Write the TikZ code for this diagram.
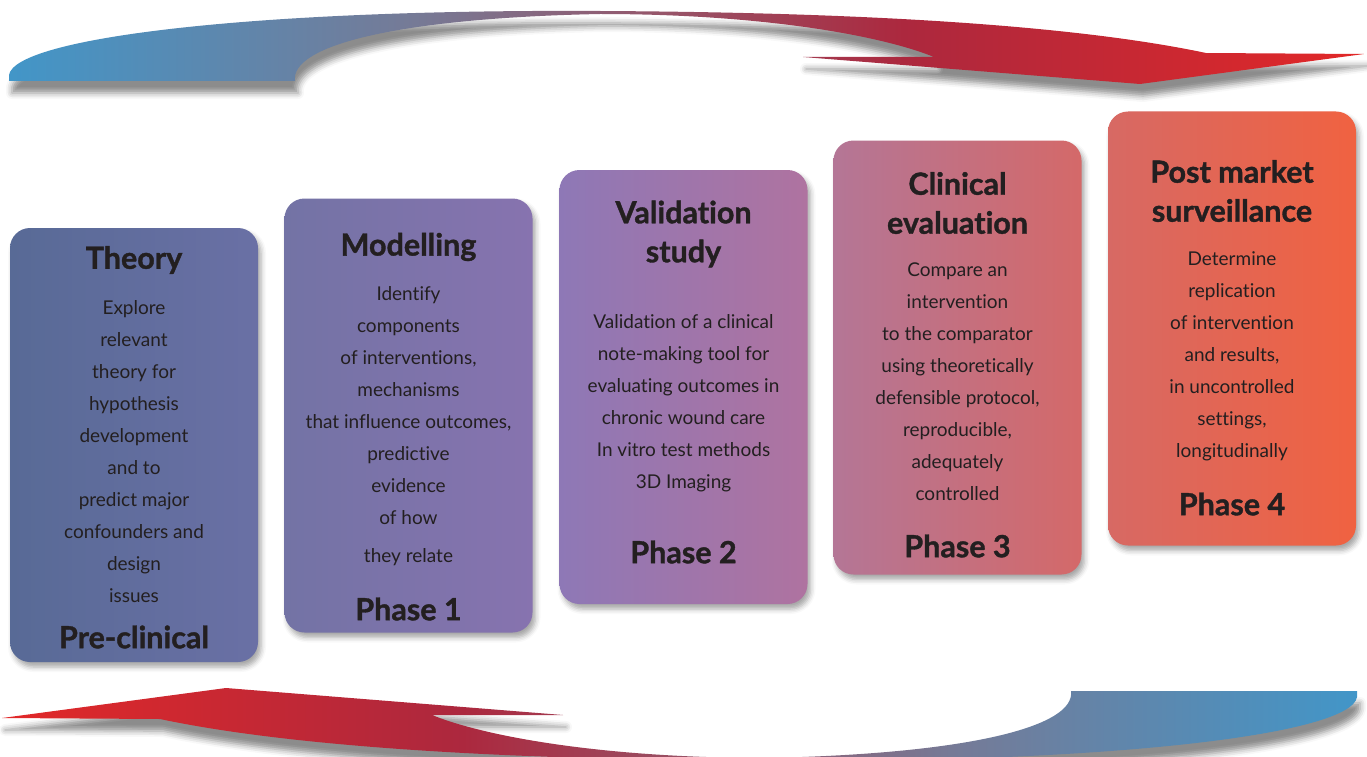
\documentclass[tikz,border=0pt]{standalone}
\usepackage{fontspec}
\setmainfont{Lato}[Ligatures=NoCommon, BoldFeatures={FakeBold=1.2}]
\usetikzlibrary{shadows.blur}

% swoosh colours
\definecolor{swBlue}{RGB}{66,150,200}
\definecolor{swGrey}{RGB}{118,122,150}
\definecolor{swMauve}{RGB}{150,85,105}
\definecolor{swCrimson}{RGB}{172,40,62}
\definecolor{swRed}{RGB}{226,40,40}
\pgfdeclarehorizontalshading{swooshshade}{100bp}{color(0bp)=(swBlue); color(25bp)=(swBlue); color(40bp)=(swGrey); color(49bp)=(swMauve); color(58bp)=(swCrimson); color(75bp)=(swRed); color(100bp)=(swRed)}

% box colours
\definecolor{boneL}{RGB}{88,106,150}
\definecolor{boneR}{RGB}{106,112,165}
\definecolor{btwoL}{RGB}{115,115,165}
\definecolor{btwoR}{RGB}{135,115,175}
\definecolor{bthreeL}{RGB}{142,120,182}
\definecolor{bthreeR}{RGB}{175,115,160}
\definecolor{bfourL}{RGB}{180,118,150}
\definecolor{bfourR}{RGB}{212,105,105}
\definecolor{bfiveL}{RGB}{215,105,100}
\definecolor{bfiveR}{RGB}{240,98,65}
\definecolor{ink}{RGB}{35,31,32}

\tikzset{
  phasebox/.style={rounded corners=20pt, minimum width=248pt, minimum height=434pt, inner sep=0pt,
    blur shadow={shadow xshift=3pt, shadow yshift=-5pt, shadow blur radius=5pt, shadow opacity=35}},
  boxtitle/.style={font=\fontsize{30.5}{39}\selectfont\bfseries, text=ink, align=center},
  boxtext/.style={font=\fontsize{19}{32}\selectfont, text=ink, align=center},
  swoosh/.style={shading=swooshshade,
    blur shadow={shadow xshift=3pt, shadow yshift=-12pt, shadow blur radius=6pt, shadow opacity=45}},
}

\begin{document}
\begin{tikzpicture}[x=1pt,y=-1pt]
\useasboundingbox (0,0) rectangle (1367,757);

% top swoosh
\shade[swoosh] (9,81) -- (295,81) .. controls (290,45) and (400,18) .. (600,14)
  .. controls (760,14) and (880,35) .. (934,57) -- (803,57) -- (1140,84) -- (1364,54) -- (1206,53)
  .. controls (1050,20) and (800,12) .. (600,11) .. controls (250,9) and (15,38) .. (9,75) -- cycle;
% bottom swoosh
\shade[swoosh, shading angle=180] (1357,691) -- (1071,691) .. controls (1076,727) and (966,754) .. (766,758)
  .. controls (606,758) and (486,737) .. (432,715) -- (563,715) -- (226,688) -- (2,718) -- (160,719)
  .. controls (316,752) and (566,760) .. (766,761) .. controls (1116,763) and (1351,734) .. (1357,697) -- cycle;

% boxes
\node[phasebox, left color=boneL, right color=boneR] (theory) at (134,445) {};
\node[phasebox, left color=btwoL, right color=btwoR] (model) at (408.5,415.5) {};
\node[phasebox, left color=bthreeL, right color=bthreeR] (valid) at (683.5,387) {};
\node[phasebox, left color=bfourL, right color=bfourR] (clin) at (957.5,357.5) {};
\node[phasebox, left color=bfiveL, right color=bfiveR] (post) at (1232,328.5) {};

% Theory
\node[boxtitle] (theoryT) at (134,260) {Theory};
\node[boxtext] (theoryB) at (134,452) {Explore\\relevant\\theory for\\hypothesis\\development\\and to\\predict major\\confounders and\\design\\issues};
\node[boxtitle] (theoryP) at (134,637) {Pre-clinical};

% Modelling
\node[boxtitle] (modelT) at (408.5,247) {Modelling};
\node[boxtext] (modelB) at (408.5,426) {Identify\\components\\of interventions,\\mechanisms\\that influence outcomes,\\predictive\\evidence\\of how\\[6pt]they relate};
\node[boxtitle] (modelP) at (408.5,609) {Phase 1};

% Validation
\node[boxtitle] (validT) at (683.5,234) {Validation\\study};
\node[boxtext] (validB) at (683.5,403) {Validation of a clinical\\note-making tool for\\evaluating outcomes in\\chronic wound care\\In vitro test methods\\3D Imaging};
\node[boxtitle] (validP) at (683.5,552) {Phase 2};

% Clinical
\node[boxtitle] (clinT) at (957.5,203) {Clinical\\evaluation};
\node[boxtext] (clinB) at (957.5,382) {Compare an\\intervention\\to the comparator\\using theoretically\\defensible protocol,\\reproducible,\\adequately\\controlled};
\node[boxtitle] (clinP) at (957.5,546) {Phase 3};

% Post market
\node[boxtitle] (postT) at (1232,191) {Post market\\surveillance};
\node[boxtext] (postB) at (1232,356) {Determine\\replication\\of intervention\\and results,\\in uncontrolled\\settings,\\longitudinally};
\node[boxtitle] (postP) at (1232,504) {Phase 4};
\end{tikzpicture}
\end{document}
